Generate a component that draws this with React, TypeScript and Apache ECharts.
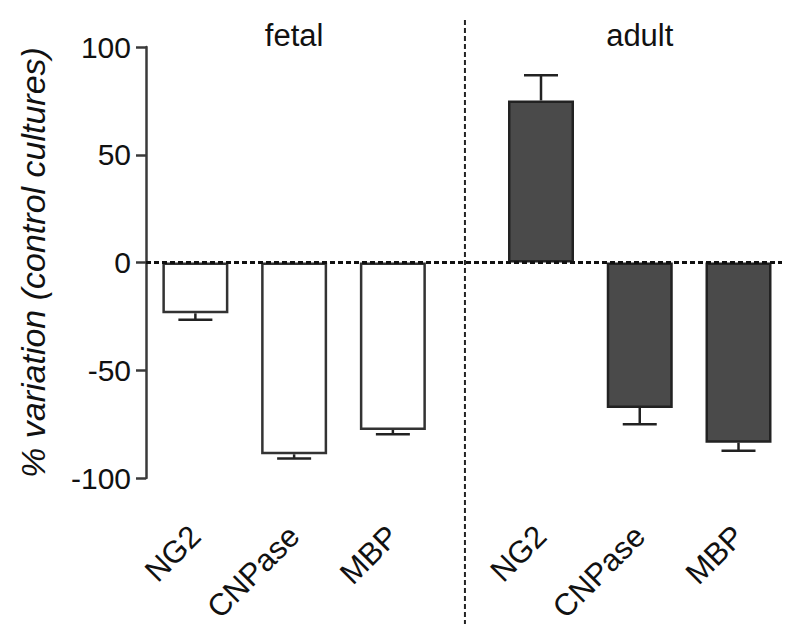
import React, { useEffect, useRef } from "react";
import * as echarts from "echarts";

// ---- data ----
const markers = ["NG2", "CNPase", "MBP"];
const groups = ["fetal", "adult"];
const fetalValues = [-23.6, -89.0, -77.7];
const fetalErrors = [3.0, 2.0, 2.0];
const adultValues = [75.2, -67.5, -83.6];
const adultErrors = [11.7, 7.5, 3.8];
const yMin = -100;
const yMax = 100;
const yInterval = 50;
const yName = "% variation (control cultures)";

// axis slots: half-unit spacing, with a gap between the two groups
const SLOT_COUNT = 14;
const fetalSlots = [1, 3, 5];
const adultSlots = [8, 10, 12];

const FONT = "'Liberation Sans', Arial, Helvetica, sans-serif";

export default function App() {
  const ref = useRef<HTMLDivElement>(null);

  useEffect(() => {
    if (!ref.current) return;
    const chart = echarts.init(ref.current, null, { renderer: "svg" });

    const slotLabels: string[] = new Array(SLOT_COUNT).fill("");
    const fetalData: (number | null)[] = new Array(SLOT_COUNT).fill(null);
    const adultData: (number | null)[] = new Array(SLOT_COUNT).fill(null);
    const errData: number[][] = [];
    fetalSlots.forEach((s, i) => {
      slotLabels[s] = markers[i];
      fetalData[s] = fetalValues[i];
      errData.push([s, fetalValues[i], fetalErrors[i]]);
    });
    adultSlots.forEach((s, i) => {
      slotLabels[s] = markers[i];
      adultData[s] = adultValues[i];
      errData.push([s, adultValues[i], adultErrors[i]]);
    });

    const axisColor = "#3a3a3a";

    chart.setOption({
      animation: false,
      backgroundColor: "#ffffff",
      grid: { left: 146, right: -2, top: 47, bottom: 154, containLabel: false },
      xAxis: {
        type: "category",
        data: slotLabels,
        boundaryGap: false,
        axisLine: { show: false, onZero: false },
        axisTick: { show: false },
        splitLine: { show: false },
        axisLabel: {
          interval: 0,
          rotate: 45,
          margin: 53,
          fontSize: 31,
          color: "#111",
          fontFamily: FONT,
        },
      },
      yAxis: {
        type: "value",
        min: yMin,
        max: yMax,
        interval: yInterval,
        name: yName,
        nameLocation: "middle",
        nameGap: 96,
        nameRotate: 90,
        nameTextStyle: {
          fontSize: 34,
          fontStyle: "italic",
          color: "#111",
          fontFamily: FONT,
        },
        axisLine: { show: true, lineStyle: { color: axisColor, width: 2.5 } },
        axisTick: { show: true, length: 10, lineStyle: { color: axisColor, width: 2.5 } },
        splitLine: { show: false },
        axisLabel: { fontSize: 30, margin: 15, color: "#111", fontFamily: FONT },
      },
      series: [
        {
          type: "bar",
          name: groups[0],
          data: fetalData,
          barWidth: 66,
          barGap: "-100%",
          itemStyle: { color: "#ffffff", borderColor: "#333333", borderWidth: 2.5 },
          markLine: {
            silent: true,
            symbol: "none",
            label: { show: false },
            lineStyle: { color: "#111", width: 3, type: [5, 3] },
            data: [{ yAxis: 0 }],
          },
          z: 2,
        },
        {
          type: "bar",
          name: groups[1],
          data: adultData,
          barWidth: 66,
          barGap: "-100%",
          itemStyle: { color: "#4a4a4a", borderColor: "#222222", borderWidth: 2.5 },
          z: 2,
        },
        {
          type: "custom",
          data: errData,
          z: 3,
          renderItem: (params: any, api: any) => {
            const idx = api.value(0);
            const v = api.value(1);
            const e = api.value(2);
            const sign = v >= 0 ? 1 : -1;
            const p0 = api.coord([idx, v]);
            const p1 = api.coord([idx, v + sign * e]);
            const half = 17;
            const style = { stroke: "#222", lineWidth: 2.5 };
            return {
              type: "group",
              children: [
                { type: "line", shape: { x1: p0[0], y1: p0[1], x2: p1[0], y2: p1[1] }, style },
                { type: "line", shape: { x1: p1[0] - half, y1: p1[1], x2: p1[0] + half, y2: p1[1] }, style },
              ],
            };
          },
        },
      ],
    });

    const px = (i: number) => chart.convertToPixel({ xAxisIndex: 0 }, i) as unknown as number;
    const divX = (px(fetalSlots[2]) + px(adultSlots[0])) / 2 - 2;
    const fetalMid = px(fetalSlots[1]);
    const adultMid = px(adultSlots[1]);

    chart.setOption({
      graphic: [
        {
          type: "line",
          shape: { x1: divX, y1: 20, x2: divX, y2: 632 },
          style: { stroke: "#222", lineWidth: 2, lineDash: [5, 3] },
          z: 10,
        },
        {
          type: "text",
          x: fetalMid,
          y: 35,
          style: {
            text: groups[0],
            fontSize: 31,
            fill: "#111",
            fontFamily: FONT,
            textAlign: "center",
            textVerticalAlign: "middle",
          },
        },
        {
          type: "text",
          x: adultMid,
          y: 35,
          style: {
            text: groups[1],
            fontSize: 31,
            fill: "#111",
            fontFamily: FONT,
            textAlign: "center",
            textVerticalAlign: "middle",
          },
        },
      ],
    });

    return () => chart.dispose();
  }, []);

  return <div ref={ref} style={{ width: 790, height: 632, margin: -8 }} />;
}
